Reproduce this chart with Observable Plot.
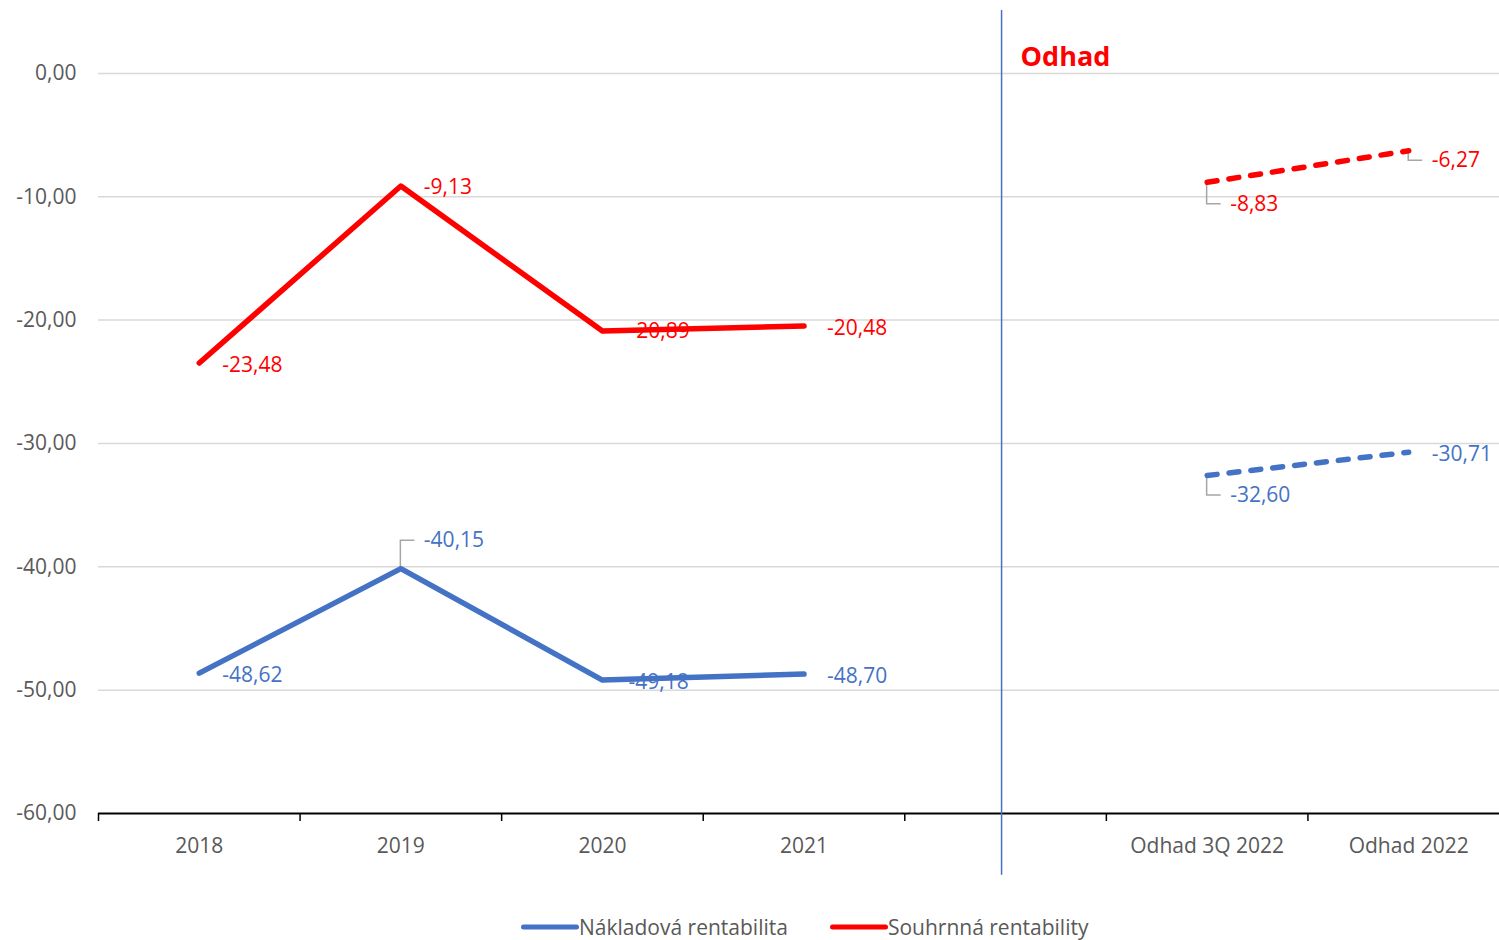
<!DOCTYPE html>
<html><head><meta charset="utf-8">
<script src="https://cdn.jsdelivr.net/npm/d3@7"></script>
<script src="https://cdn.jsdelivr.net/npm/@observablehq/plot@0.6"></script>
<style>
html,body{margin:0;padding:0;background:#fff;overflow:hidden;width:1499px;height:940px;}
#chart{position:absolute;left:0;top:0;}
#chart svg{max-width:none !important;}
#legend{position:absolute;left:521px;top:912px;display:flex;align-items:center;font-family:"Open Sans";font-size:21px;color:#595959;line-height:30px;}
</style></head><body><div id="chart"></div><div id="legend"></div>
<script>
// ---- data ----
const categories = ["2018", "2019", "2020", "2021", " ", "Odhad 3Q 2022", "Odhad 2022"];
const nakladova = [-48.62, -40.15, -49.18, -48.70, null, -32.60, -30.71];
const souhrnna = [-23.48, -9.13, -20.89, -20.48, null, -8.83, -6.27];
const seriesNames = ["Nákladová rentabilita", "Souhrnná rentability"];
const yTicks = [0, -10, -20, -30, -40, -50, -60];
const estimateCategories = ["Odhad 3Q 2022", "Odhad 2022"];
const dividerCategory = " ";
const annotation = "Odhad";

// ---- styling / label placement ----
const seriesValues = [nakladova, souhrnna];
const seriesColors = ["#4472C4", "#FF0000"];
const labelDy = [[2, -28, 2, 2, 0, 20, 2], [2, 1, 0, 2, 0, 22, 10]];
const labelDx = [[23, 23, 26, 23, 0, 23, 23], [23, 23, 27, 23, 0, 23, 23]];

const W = 1509, H = 895, ML = 98, MR = 0, MT = 11.25, MB = 82;
const bw = (W - ML - MR) / categories.length;

const rows = [];
seriesNames.forEach((s, i) => categories.forEach((c, j) => {
  const v = seriesValues[i][j];
  if (v != null) rows.push({series: s, cat: c, value: v, est: estimateCategories.includes(c),
    dx: labelDx[i][j], dy: labelDy[i][j], color: seriesColors[i]});
}));

const fmt = v => d3.format(".2f")(v).replace(".", ",").replace("\u2212", "-");

function leaders(index, scales) {
  const g = d3.create("svg:g");
  const half = scales.x.bandwidth ? scales.x.bandwidth() / 2 : 0;
  rows.filter(r => Math.abs(r.dy) > 5).forEach(r => {
    const px = scales.x(r.cat) + half, py = scales.y(r.value);
    g.append("path")
      .attr("d", `M${px},${py}V${py + r.dy}H${px + r.dx - 9}`)
      .attr("fill", "none").attr("stroke", "#A6A6A6").attr("stroke-width", 1.5);
  });
  return g.node();
}

const chart = Plot.plot({
  width: W, height: H,
  marginLeft: ML, marginRight: MR, marginTop: MT, marginBottom: MB,
  style: {fontFamily: "Open Sans", fontSize: "21px", color: "#595959", background: "#fff", maxWidth: "none"},
  x: {type: "band", domain: categories, padding: 0, round: false, label: null},
  y: {domain: [-60, 5], label: null},
  marks: [
    Plot.ruleY(yTicks.filter(t => t !== -60), {stroke: "#D9D9D9", strokeWidth: 1.5}),
    Plot.ruleY([-60], {stroke: "#000", strokeWidth: 2}),
    Plot.ruleX([dividerCategory], {y1: 5.1, y2: -65, stroke: "#4472C4", strokeWidth: 1.5, dx: -4}),
    leaders,
    ...seriesNames.map((s, i) => Plot.line(rows.filter(r => r.series === s && !r.est),
      {x: "cat", y: "value", stroke: seriesColors[i], strokeWidth: 5.5, strokeLinecap: "round", strokeLinejoin: "round"})),
    ...seriesNames.map((s, i) => Plot.line(rows.filter(r => r.series === s && r.est),
      {x: "cat", y: "value", stroke: seriesColors[i], strokeWidth: 5.5, strokeDasharray: "10,12", strokeLinecap: "round"})),
    ...rows.map(r => Plot.text([r], {x: "cat", y: "value", text: d => fmt(d.value), fill: r.color,
      textAnchor: "start", dx: r.dx, dy: r.dy, fontSize: 21})),
    Plot.text([annotation], {x: () => dividerCategory, frameAnchor: "top", text: d => d,
      textAnchor: "start", dx: 15, dy: 35, fill: "#FF0000", fontWeight: "bold", fontSize: 27}),
    Plot.axisY(yTicks, {tickSize: 0, tickPadding: 22, tickFormat: fmt, fill: "#595959", label: null}),
    Plot.axisX({tickSize: 8, tickFormat: () => "", dx: -bw / 2, stroke: "#000", strokeWidth: 1.5, label: null}),
    Plot.axisX({tickSize: 0, tickPadding: 25, tickFormat: d => d.trim(), fill: "#595959", label: null})
  ]
});
chart.style.maxWidth = "none";
document.getElementById("chart").appendChild(chart);

const legend = d3.select("#legend");
seriesNames.forEach((s, i) => {
  const item = legend.append("div").style("display", "flex").style("align-items", "center")
    .style("margin-right", i === 0 ? "42px" : "0");
  const sw = item.append("svg").attr("width", 58).attr("height", 10);
  sw.append("line").attr("x1", 2.5).attr("x2", 55.5).attr("y1", 5).attr("y2", 5)
    .attr("stroke", seriesColors[i]).attr("stroke-width", 5).attr("stroke-linecap", "round");
  item.append("span").text(s);
});
</script>
</body></html>
